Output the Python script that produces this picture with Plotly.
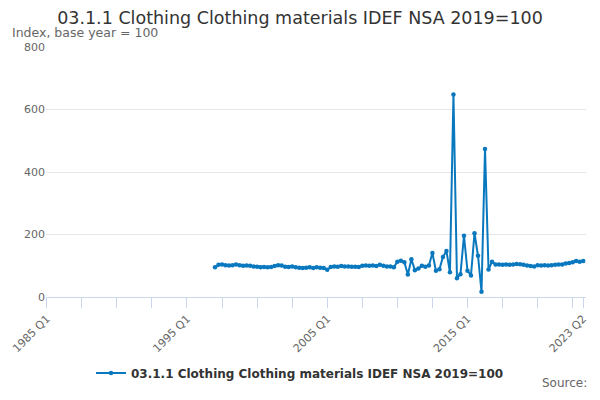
import plotly.graph_objects as go

# ---- data ----
first_year = 1985
start_index = 48  # 1997 Q1 (0 = 1985 Q1)
values_1997_2004 = [
    95, 103, 104, 102, 101, 102, 104, 102, 100, 101, 100, 98, 97, 95, 96, 95,
    96, 99, 102, 101, 97, 96, 98, 95, 94, 93, 94, 95, 93, 95, 94, 93,
]
values_2005_2012 = [
    87, 96, 98, 97, 99, 98, 98, 97, 97, 96, 100, 101, 100, 101, 99, 103,
    100, 98, 98, 95, 113, 116, 111, 72, 121, 86, 91, 100, 97, 101, 141, 84,
]
values_2013_2020 = [
    89, 128, 147, 79, 648, 60, 73, 196, 84, 69, 204, 132, 17, 474, 88, 113,
    104, 104, 103, 104, 103, 104, 106, 105, 103, 101, 99, 98, 102, 101, 102, 101,
]
values_2021_2023 = [102, 103, 104, 104, 107, 109, 111, 115, 113, 115]
series_values = values_1997_2004 + values_2005_2012 + values_2013_2020 + values_2021_2023
tick_labels = ["1985 Q1", "1995 Q1", "2005 Q1", "2015 Q1", "2023 Q2"]
y_ticks = [0, 200, 400, 600, 800]
series_name = "03.1.1 Clothing Clothing materials IDEF NSA 2019=100"

# ---- build categories ----
n_quarters = 154
categories = [f"{first_year + i // 4} Q{i % 4 + 1}" for i in range(n_quarters)]
x_data = categories[start_index:start_index + len(series_values)]

tickvals = [categories[i] for i in range(0, n_quarters, 10)] + [categories[-1]]
ticktext = [c if c in tick_labels else "" for c in tickvals]

# page body has an 8px margin -> figure is 584x384 and offsets are reduced by 8
W, H = 584, 384
L, R, T, B = 38, 6, 39, 95
PW, PH = W - L - R, H - T - B

color = "#0a78be"
font_family = "DejaVu Sans"
fig = go.Figure()
fig.add_trace(go.Scatter(
    x=x_data, y=series_values, mode="lines+markers",
    name="<b>" + series_name + "</b>",
    line=dict(color=color, width=2),
    marker=dict(color=color, size=4.5),
))

def px_y(y_page):
    # convert page y (reference pixels) to paper coords
    return (H - B - (y_page - 8)) / PH

def px_x(x_page):
    return ((x_page - 8) - L) / PW

fig.update_layout(
    width=W, height=H,
    margin=dict(l=L, r=R, t=T, b=B, autoexpand=False),
    paper_bgcolor="white", plot_bgcolor="white",
    font=dict(family=font_family, color="#666666", size=11),
    title=dict(text=series_name, x=(300 - 8) / W, xref="container", xanchor="center",
               y=1 - (18 - 8) / H, yref="container", yanchor="middle",
               font=dict(size=17.5, color="#333333", family=font_family)),
    showlegend=True,
    legend=dict(orientation="h", x=px_x(300), xanchor="center", y=px_y(373), yanchor="middle",
                font=dict(size=12, color="#333333", family=font_family),
                itemwidth=30),
    xaxis=dict(type="category", categoryorder="array", categoryarray=categories,
               range=[-0.2, 153.8], tickmode="array", tickvals=tickvals, ticktext=ticktext,
               tickangle=-45, ticks="outside", ticklen=10, tickcolor="#ccd6eb",
               showline=True, linecolor="#ccd6eb", linewidth=1, showgrid=False,
               zeroline=False, tickfont=dict(size=11, color="#666666")),
    yaxis=dict(range=[0, 800], tickvals=y_ticks, showgrid=True, gridcolor="#e6e6e6",
               zeroline=False, showline=False, ticks="", tickfont=dict(size=11, color="#666666")),
    annotations=[
        dict(text="Index, base year = 100", xref="paper", yref="paper",
             x=px_x(10), y=px_y(32.5), xanchor="left", yanchor="middle",
             showarrow=False, font=dict(size=12.5, color="#666666", family=font_family)),
        dict(text="Source:", xref="paper", yref="paper", x=px_x(589),
             y=px_y(392), xanchor="right", yanchor="bottom",
             showarrow=False, font=dict(size=12, color="#666666", family=font_family)),
    ],
)

fig.write_html("out.html")
